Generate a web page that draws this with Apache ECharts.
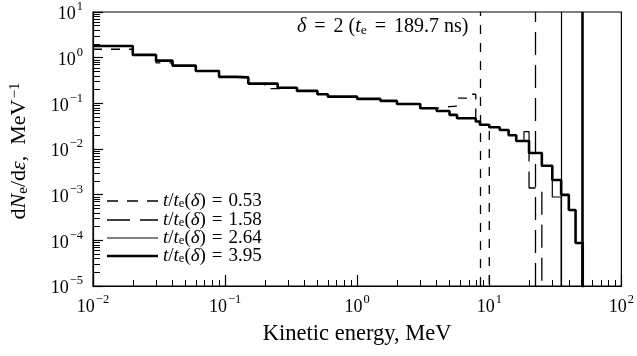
<!DOCTYPE html>
<html>
<head>
<meta charset="utf-8">
<script src="https://cdn.jsdelivr.net/npm/echarts@6/dist/echarts.min.js"></script>
<style>
html,body{margin:0;padding:0;background:#fff;}
#c{width:637px;height:356px;}
</style>
</head>
<body>
<div id="c"></div>
<script>
// Bin edges (MeV)
const edges = [0.01,0.02,0.03,0.04,0.06,0.09,0.12,0.15,0.2,0.25,0.35,0.5,0.6,1,1.5,2,3,4,5,5.7,7,7.9,8.5,10,12,14,16,18.3,20,25,30,35,40,45,51];
// Series values per bin (null = series ended)
const vals053 = [1.53,1.15,0.77,0.67,0.51,0.38,0.36,0.27,0.21,0.22,0.187,0.158,0.14,0.125,0.113,0.097,0.078,0.085,0.087,0.13,0.158,0.04,0.034,null];
const vals158 = [1.8,1.15,0.86,0.67,0.51,0.38,0.37,0.27,0.27,0.22,0.187,0.158,0.14,0.125,0.113,0.097,0.078,0.068,0.056,0.047,0.047,0.04,0.034,0.03,0.026,0.02,0.015,0.015,0.0014,null];
const vals264 = [1.8,1.15,0.86,0.67,0.51,0.38,0.37,0.27,0.27,0.22,0.187,0.158,0.14,0.125,0.113,0.097,0.078,0.068,0.056,0.047,0.047,0.04,0.034,0.03,0.026,0.02,0.015,0.024,0.0082,0.0043,0.00089,null];
const vals395 = [1.8,1.15,0.86,0.67,0.51,0.38,0.37,0.27,0.27,0.22,0.187,0.158,0.14,0.125,0.113,0.097,0.078,0.068,0.056,0.047,0.047,0.04,0.034,0.03,0.026,0.02,0.015,0.015,0.0082,0.0043,0.0021,0.00099,0.00046,0.0000875];
const seriesNames = ['0.53','1.58','2.64','3.95'];
const maxEnergy = [8.5, 22.3, 35, 51];

const FONT = 'Liberation Serif';
const FLOOR = 1e-9;
const GRID = {left:93, right:14, top:12, bottom:70};
const W = 637, H = 356;
const XMIN = 0.01, XMAX = 100, YMIN = 1e-5, YMAX = 10;

function steps(vals){
  const pts = [];
  let i = 0;
  for(; i < vals.length && i < edges.length-1; i++){
    const v = vals[i];
    if(v === null) break;
    pts.push([edges[i], v]);
    pts.push([edges[i+1], v]);
  }
  pts.push([edges[i], FLOOR]);
  return pts;
}

const styles = [
  {type:[9,9], legendDash:[11,9], width:1.3},
  {type:[23,10], legendDash:[23,10], width:1.3},
  {type:'solid', legendDash:null, width:1.2},
  {type:'solid', legendDash:null, width:2.6}
];
const allVals = [vals053, vals158, vals264, vals395];

function expStr(e){ return e < 0 ? '\u2212' + (-e) : String(e); }
function powLabel(v){
  const e = Math.round(Math.log10(v));
  return '{b|10}{s|' + expStr(e) + '}';
}
const labelRich = {
  b:{fontFamily:FONT, fontSize:18, color:'#000', padding:[5,0,0,0]},
  s:{fontFamily:FONT, fontSize:12.5, color:'#000', verticalAlign:'top', padding:[0,0,0,1]}
};

const series = seriesNames.map((nm, i) => ({
  name: nm,
  type:'line',
  data: steps(allVals[i]),
  symbol:'none',
  showSymbol:false,
  lineStyle:{color:'#000', width:styles[i].width, type:styles[i].type},
  itemStyle:{color:'#000'},
  clip:true,
  z: 3 + i,
  markLine:{
    silent:true, symbol:['none','none'], label:{show:false},
    lineStyle:{color:'#000', width:styles[i].width, type:styles[i].type},
    data:[{xAxis: maxEnergy[i]}]
  }
}));

// minor log ticks (2..9 x 10^n), as short segments in data space
const gw = W - GRID.left - GRID.right, gh = H - GRID.top - GRID.bottom;
const xDec = Math.log10(XMAX) - Math.log10(XMIN), yDec = Math.log10(YMAX) - Math.log10(YMIN);
const xTickTop = YMIN * Math.pow(10, 6 * yDec / gh);     // 6 px up from bottom
const yTickRight = XMIN * Math.pow(10, 7 * xDec / gw);   // 7 px right from left
const minorTickData = [];
for(let n=-2;n<2;n++) for(let k=2;k<10;k++){
  const v = k*Math.pow(10,n);
  minorTickData.push({coords:[[v, YMIN],[v, xTickTop]]});
}
for(let n=-5;n<1;n++) for(let k=2;k<10;k++){
  const v = k*Math.pow(10,n);
  minorTickData.push({coords:[[XMIN, v],[yTickRight, v]]});
}
series.push({
  type:'lines', coordinateSystem:'cartesian2d', silent:true, z:10,
  polyline:false, effect:{show:false},
  lineStyle:{color:'#000', width:1, opacity:1, curveness:0},
  data:minorTickData
});

const chart = echarts.init(document.getElementById('c'), null, {renderer:'canvas'});
chart.setOption({
  animation:false,
  grid:{left:GRID.left, right:GRID.right, top:GRID.top, bottom:GRID.bottom, show:true, borderColor:'#000', borderWidth:1.2},
  xAxis:{
    type:'log', logBase:10, min:XMIN, max:XMAX,
    axisLine:{show:true, lineStyle:{color:'#000', width:1.2}},
    axisTick:{show:true, inside:true, length:11, lineStyle:{color:'#000', width:1.2}},
    splitLine:{show:false},
    axisLabel:{margin:7, formatter:powLabel, rich:labelRich},
    name:'Kinetic energy, MeV',
    nameLocation:'middle', nameGap:37,
    nameTextStyle:{fontFamily:FONT, fontSize:22.5, color:'#000'}
  },
  yAxis:{
    type:'log', logBase:10, min:YMIN, max:YMAX,
    axisLine:{show:true, lineStyle:{color:'#000', width:1.2}},
    axisTick:{show:true, inside:true, length:10, lineStyle:{color:'#000', width:1.2}},
    splitLine:{show:false},
    axisLabel:{margin:10, formatter:powLabel, rich:labelRich}
  },
  graphic:{elements:(function(){
    const g = [];
    g.push({
      type:'text', id:'anno', left:297, top:17,
      style:{
        text:'{i|\u03b4}{e|=}{n|2 (}{i|t}{sub|e}{e|=}{n|189.7 ns)}',
        rich:{
          n:{fontFamily:FONT, fontSize:20, fill:'#000'},
          e:{fontFamily:FONT, fontSize:20, fill:'#000', padding:[0,8,0,8]},
          i:{fontFamily:FONT, fontSize:20, fontStyle:'italic', fill:'#000'},
          sub:{fontFamily:FONT, fontSize:13.5, fill:'#000', verticalAlign:'bottom', padding:[6,0,0,0]}
        }
      }
    });
    g.push({
      type:'text', id:'ytitle', x:19, y:151, rotation:Math.PI/2,
      style:{
        text:'{n|d}{i|N}{sub|e}{n|/d}{i|\u03b5}{n|,  MeV}{sup|\u22121}',
        align:'center', verticalAlign:'middle',
        rich:{
          n:{fontFamily:FONT, fontSize:22, fill:'#000'},
          i:{fontFamily:FONT, fontSize:22, fontStyle:'italic', fill:'#000'},
          sub:{fontFamily:FONT, fontSize:15, fill:'#000', verticalAlign:'bottom', padding:[8,0,0,0]},
          sup:{fontFamily:FONT, fontSize:15, fill:'#000', verticalAlign:'top', padding:[0,0,8,1]}
        }
      }
    });
    const legendRowsY = [201, 220, 238, 256];
    seriesNames.forEach((nm, i) => {
      const y = legendRowsY[i];
      g.push({
        type:'line', id:'lgl' + i,
        shape:{x1:107, y1:y, x2:158, y2:y},
        style:{stroke:'#000', lineWidth:styles[i].width, lineDash:styles[i].legendDash}
      });
      g.push({
        type:'text', id:'lgt' + i, x:163, y:y,
        style:{
          text:'{i|t}{n|/}{i|t}{sub|e}{n|(}{i|\u03b4}{n|)}{e|=}{n|' + nm + '}',
          verticalAlign:'middle', align:'left',
          rich:{
            n:{fontFamily:FONT, fontSize:19, fill:'#000'},
            e:{fontFamily:FONT, fontSize:19, fill:'#000', padding:[0,6,0,6]},
            i:{fontFamily:FONT, fontSize:19, fontStyle:'italic', fill:'#000'},
            sub:{fontFamily:FONT, fontSize:12.5, fill:'#000', verticalAlign:'bottom', padding:[6,0,0,0]}
          }
        }
      });
    });
    return g;
  })()},
  series:series
});
</script>
</body>
</html>
